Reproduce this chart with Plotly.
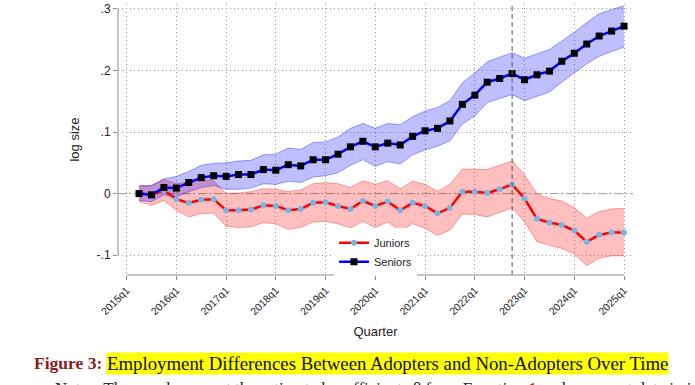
import plotly.graph_objects as go

# quarter index: 2015q1 = 0
quarters = list(range(1, 41))  # 2015q2 ... 2025q1
tick_vals = list(range(0, 41, 4))
tick_labels = [f"{y}q1" for y in range(2015, 2026)]

seniors = [0.000, -0.002, 0.010, 0.009, 0.018, 0.026, 0.029, 0.028, 0.031, 0.031,
           0.039, 0.038, 0.047, 0.045, 0.055, 0.055, 0.064, 0.076,
           0.085, 0.076, 0.082, 0.079, 0.093, 0.102, 0.106, 0.118, 0.145, 0.160,
           0.181, 0.187, 0.195, 0.185, 0.193, 0.199, 0.215, 0.228, 0.243, 0.256,
           0.264, 0.272]
seniors_hi = [0.013, 0.013, 0.024, 0.028, 0.036, 0.046, 0.049, 0.050, 0.053, 0.054,
              0.063, 0.064, 0.074, 0.072, 0.083, 0.084, 0.092, 0.106,
              0.114, 0.106, 0.114, 0.112, 0.125, 0.134, 0.140, 0.151, 0.180, 0.196,
              0.214, 0.221, 0.229, 0.220, 0.227, 0.234, 0.248, 0.262, 0.278, 0.292,
              0.299, 0.305]
seniors_lo = [-0.011, -0.013, -0.002, -0.005, 0.003, 0.010, 0.013, 0.007, 0.007, 0.009,
              0.016, 0.015, 0.020, 0.018, 0.027, 0.029, 0.034, 0.046,
              0.055, 0.044, 0.052, 0.048, 0.063, 0.071, 0.077, 0.086, 0.113, 0.126,
              0.148, 0.155, 0.161, 0.151, 0.158, 0.165, 0.181, 0.196, 0.211, 0.223,
              0.231, 0.238]

juniors = [0.000, -0.002, 0.005, -0.009, -0.015, -0.010, -0.009, -0.027, -0.027, -0.026,
           -0.019, -0.020, -0.027, -0.025, -0.015, -0.014, -0.020, -0.025,
           -0.012, -0.020, -0.013, -0.027, -0.015, -0.020, -0.032, -0.023, 0.003, 0.003,
           0.001, 0.007, 0.015, -0.008, -0.041, -0.047, -0.051, -0.060, -0.078, -0.067,
           -0.063, -0.063]
juniors_hi = [0.012, 0.013, 0.023, 0.016, 0.019, 0.023, 0.021, 0.000, 0.001, 0.003,
              0.008, 0.007, 0.003, 0.006, 0.016, 0.018, 0.016, 0.010,
              0.021, 0.015, 0.021, 0.008, 0.020, 0.015, 0.004, 0.015, 0.040, 0.040,
              0.039, 0.046, 0.053, 0.031, -0.001, -0.008, -0.012, -0.023, -0.040, -0.029,
              -0.025, -0.024]
juniors_lo = [-0.013, -0.019, -0.011, -0.027, -0.038, -0.032, -0.032, -0.053, -0.055, -0.054,
              -0.047, -0.049, -0.058, -0.055, -0.046, -0.045, -0.049, -0.056,
              -0.045, -0.055, -0.046, -0.060, -0.049, -0.056, -0.068, -0.059, -0.033, -0.034,
              -0.038, -0.031, -0.023, -0.046, -0.078, -0.084, -0.089, -0.098, -0.117, -0.105,
              -0.101, -0.101]

y_tick_vals = [-0.1, 0, 0.1, 0.2, 0.3]
y_tick_labels = ["-.1", "0", ".1", ".2", ".3"]
event_quarter = 31  # 2022q4

W, H = 695, 385
ML, MR, MT, MB = 118, 62, 2, 110
PW, PH = W - ML - MR, H - MT - MB


def px(x):
    return (x - ML) / PW


def py(y):
    return (H - MB - y) / PH


fig = go.Figure()

# confidence bands
fig.add_trace(go.Scatter(x=quarters, y=juniors_lo, mode="lines",
                         line=dict(color="rgba(255,0,0,0.35)", width=1),
                         showlegend=False, hoverinfo="skip"))
fig.add_trace(go.Scatter(x=quarters, y=juniors_hi, mode="lines", fill="tonexty",
                         fillcolor="rgba(255,0,0,0.25)",
                         line=dict(color="rgba(255,0,0,0.35)", width=1),
                         showlegend=False, hoverinfo="skip"))
fig.add_trace(go.Scatter(x=quarters, y=seniors_lo, mode="lines",
                         line=dict(color="rgba(0,0,255,0.35)", width=1),
                         showlegend=False, hoverinfo="skip"))
fig.add_trace(go.Scatter(x=quarters, y=seniors_hi, mode="lines", fill="tonexty",
                         fillcolor="rgba(0,0,255,0.25)",
                         line=dict(color="rgba(0,0,255,0.35)", width=1),
                         showlegend=False, hoverinfo="skip"))

# point estimates
fig.add_trace(go.Scatter(x=quarters, y=juniors, mode="lines+markers", name="Juniors",
                         line=dict(color="#ff0000", width=2.5),
                         marker=dict(symbol="circle", size=6, color="#74b6e6")))
fig.add_trace(go.Scatter(x=quarters, y=seniors, mode="lines+markers", name="Seniors",
                         line=dict(color="#0000ff", width=2.5),
                         marker=dict(symbol="square", size=7, color="#000000")))

shapes = [
    # zero reference line
    dict(type="line", xref="paper", yref="y", x0=0, x1=1, y0=0, y1=0,
         line=dict(color="#9a9a9a", width=1, dash="8px,3px,2px,3px"), layer="below"),
    # event line
    dict(type="line", xref="x", yref="paper", x0=event_quarter, x1=event_quarter, y0=0, y1=1,
         line=dict(color="#555555", width=1, dash="5px,3px")),
    # axis lines (Stata style, span the scale only)
    dict(type="line", xref="paper", yref="y", x0=0, x1=0, y0=-0.1, y1=0.3,
         line=dict(color="#8c8c8c", width=1)),
    dict(type="line", xref="x", yref="paper", x0=0, x1=40, y0=0, y1=0,
         line=dict(color="#8c8c8c", width=1)),
]

font_sans = "Liberation Sans, Arial, Helvetica, sans-serif"
font_serif = "Liberation Serif, Times New Roman, serif"

annotations = [
    dict(xref="paper", yref="paper", x=px(104), y=py(364), xanchor="right", yanchor="middle",
         text="<b>Figure 3:</b>", showarrow=False,
         font=dict(family=font_serif, size=17.5, color="#8b1a1a")),
    dict(xref="paper", yref="paper", x=px(106), y=py(364), xanchor="left", yanchor="middle",
         text="Employment Differences Between Adopters and Non-Adopters Over Time",
         showarrow=False, bgcolor="#ffff00", borderpad=0,
         font=dict(family=font_serif, size=18.8, color="#111111")),
    dict(xref="paper", yref="paper", x=px(53), y=py(389), xanchor="left", yanchor="middle",
         text="Notes: The panels present the estimated coefficients \u03b2 from Equation "
              "<span style='color:#cc0000'>1</span> and represent data in in",
         showarrow=False, font=dict(family=font_serif, size=17, color="#222222")),
]

fig.update_layout(
    width=W, height=H,
    margin=dict(l=ML, r=MR, t=MT, b=MB),
    paper_bgcolor="white", plot_bgcolor="white",
    font=dict(family=font_sans, color="#222222"),
    shapes=shapes, annotations=annotations,
    legend=dict(x=px(334), y=py(228), xanchor="left", yanchor="top",
                bgcolor="white", font=dict(size=11, family=font_sans),
                traceorder="normal", tracegroupgap=0, itemwidth=30),
    xaxis=dict(range=[-0.69, 40.72], tickvals=tick_vals, ticktext=tick_labels,
               tickangle=-45, ticks="outside", ticklen=4, tickcolor="#8c8c8c",
               showline=False, zeroline=False,
               showgrid=True, gridcolor="#9a9a9a", griddash="1px,3px", gridwidth=1,
               tickfont=dict(size=10.5, family=font_sans),
               title=dict(text="Quarter", font=dict(size=13, family=font_sans), standoff=10)),
    yaxis=dict(range=[-0.1322, 0.308], tickvals=y_tick_vals, ticktext=y_tick_labels,
               ticks="outside", ticklen=4, tickcolor="#8c8c8c",
               showline=False, zeroline=False,
               showgrid=True, gridcolor="#9a9a9a", griddash="1px,3px", gridwidth=1,
               tickfont=dict(size=12, family=font_sans),
               title=dict(text="log size", font=dict(size=13, family=font_sans), standoff=14)),
)

fig.write_html("out.html", config={"displayModeBar": False},
               post_script="document.body.style.margin='0px';")
